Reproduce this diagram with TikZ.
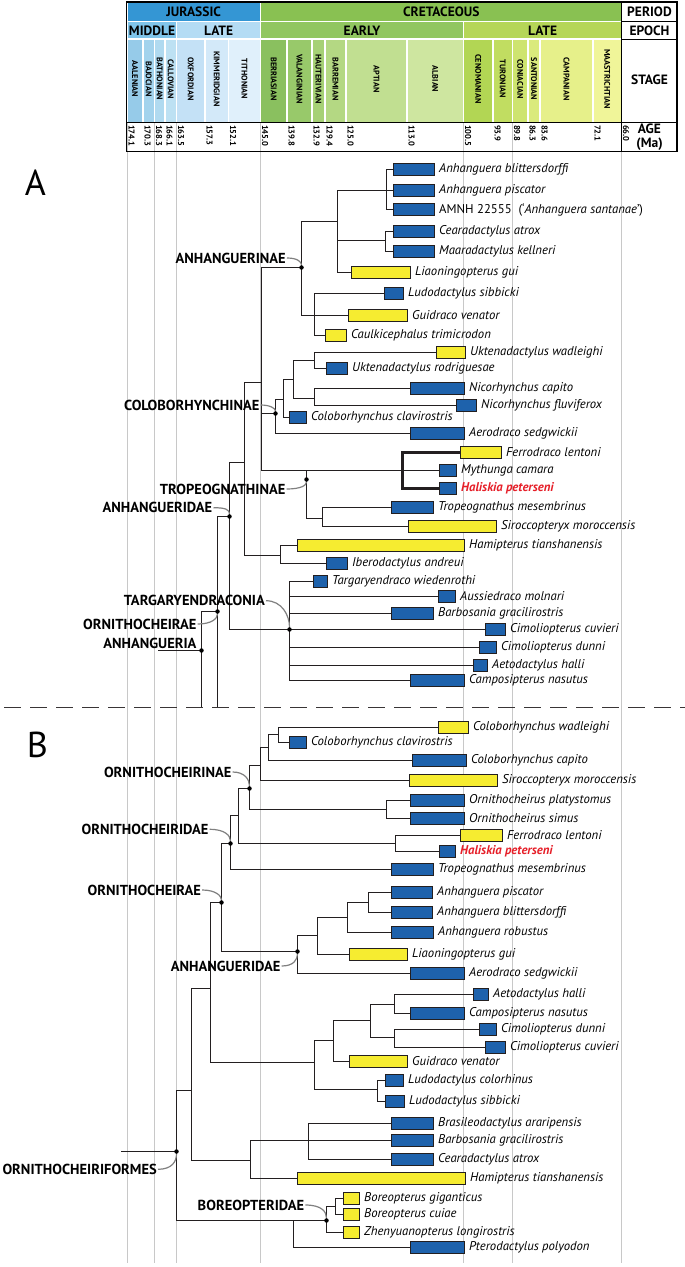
\documentclass[tikz,border=0pt]{standalone}
\usepackage{fontspec}
\setmainfont{PT Sans}
\definecolor{jur}{RGB}{52,150,212}
\definecolor{midj}{RGB}{128,197,234}
\definecolor{latej}{RGB}{180,220,244}
\definecolor{aal}{RGB}{150,203,233}
\definecolor{baj}{RGB}{163,211,237}
\definecolor{bat}{RGB}{176,218,240}
\definecolor{cal}{RGB}{189,225,243}
\definecolor{oxf}{RGB}{196,225,246}
\definecolor{kim}{RGB}{211,233,249}
\definecolor{tit}{RGB}{224,240,251}
\definecolor{cre}{RGB}{137,193,82}
\definecolor{ek}{RGB}{145,198,96}
\definecolor{lk}{RGB}{181,214,88}
\definecolor{ber}{RGB}{138,192,95}
\definecolor{val}{RGB}{152,201,106}
\definecolor{hau}{RGB}{166,209,118}
\definecolor{bar}{RGB}{180,216,131}
\definecolor{apt}{RGB}{193,223,145}
\definecolor{alb}{RGB}{206,230,160}
\definecolor{cen}{RGB}{178,214,84}
\definecolor{tur}{RGB}{193,221,97}
\definecolor{con}{RGB}{206,228,111}
\definecolor{san}{RGB}{218,234,124}
\definecolor{cam}{RGB}{230,240,138}
\definecolor{maa}{RGB}{240,245,153}
\definecolor{fblue}{RGB}{30,98,172}
\definecolor{fyel}{RGB}{246,236,48}
\definecolor{hred}{RGB}{230,30,40}
\definecolor{linec}{RGB}{35,31,32}
\definecolor{gridc}{RGB}{200,200,200}
\newcommand\myTaxFont{\fontsize{12.7}{14}\selectfont\itshape}
\newcommand\myCladeFont{\fontsize{14.5}{15}\selectfont\bfseries}
% pixel-aligned coordinate
\newcommand\pc[3]{\coordinate (#1) at ({floor(#2)+0.5},{floor(#3)+0.5});}
\newcommand\taxon[6]{%
  \node[tbox, fill=#5, minimum width={round(#3-#2)*1pt}] (#1) at ({floor(#2)+0.5},{floor(#4)+0.5}) {};
  \node[taxtxt] (#1t) at ([xshift=4.5pt]#1.east) {#6};}
% bracket: node, top child, bottom child
\newcommand\brk[3]{\draw[edge] (#2) -| (#1) |- (#3);}
\newcommand\brkbold[3]{\draw[boldedge] (#2) -| (#1) |- (#3);}
% middle child
\newcommand\midc[2]{\draw[edge] (#1 |- #2) -- (#2);}
\pgfdeclarelayer{grid}
\pgfdeclarelayer{bg}
\pgfsetlayers{grid,bg,main}
\begin{document}
\begin{tikzpicture}[x=1pt,y=-1pt,
  edge/.style={draw=linec, line width=1.8pt, line cap=rect},
  boldedge/.style={draw=linec, line width=2.6pt, line cap=rect},
  tbox/.style={draw=linec, line width=1pt, inner sep=0pt, outer sep=0pt, minimum height=12pt, anchor=west},
  taxtxt/.style={font=\myTaxFont, anchor=west, inner sep=0pt},
  clade/.style={font=\myCladeFont, anchor=east, inner sep=0pt},
  lead/.style={draw=gray, line width=1.2pt},
  ndot/.style={circle, fill=black, inner sep=0pt, minimum size=4.5pt},
  gridl/.style={draw=gridc, line width=1.2pt},
  cell/.style={draw=white, line width=1.2pt},
  hdr/.style={font=\fontsize{13.5}{14}\selectfont\bfseries, inner sep=0pt},
  stagetxt/.style={font=\fontsize{8.2}{9}\selectfont\bfseries, rotate=-90, inner sep=0pt},
  agetxt/.style={font=\fontsize{8.5}{9}\selectfont\bfseries, rotate=-90, inner sep=0.3pt, anchor=south west},
  sepline/.style={draw=linec!90, line width=1.7pt, dash pattern=on 17pt off 9pt}]
\useasboundingbox (0,0) rectangle (685,1267);

% ---------- background and time grid ----------
\begin{pgfonlayer}{grid}
\fill[white] (0,0) rectangle (685,1267);
\foreach \x in {127.5,154.5,176.5,260.5,463.5,512.5,621.5}
  \draw[gridl] (\x,122.5) -- (\x,1263);
\end{pgfonlayer}

% ---------- header ----------
\filldraw[cell, fill=jur] (127,2.5) rectangle (260.5,21.3);
\filldraw[cell, fill=cre] (260.5,2.5) rectangle (621.5,21.3);
\filldraw[cell, fill=midj] (127,21.3) rectangle (176.5,39);
\filldraw[cell, fill=latej] (176.5,21.3) rectangle (260.5,39);
\filldraw[cell, fill=ek] (260.5,21.3) rectangle (463.5,39);
\filldraw[cell, fill=lk] (463.5,21.3) rectangle (621.5,39);
\node[hdr] (hJ) at (193.7,12) {JURASSIC};
\node[hdr] (hK) at (441.3,12) {CRETACEOUS};
\node[hdr] (hP) at (649.5,12) {PERIOD};
\node[hdr] (hMJ) at (152,30.5) {MIDDLE};
\node[hdr] (hLJ) at (218.7,30.5) {LATE};
\node[hdr] (hEK) at (362,30.5) {EARLY};
\node[hdr] (hLK) at (542.7,30.5) {LATE};
\node[hdr] (hE) at (649.5,30.5) {EPOCH};
\node[hdr] (hS) at (649.5,80) {STAGE};
\node[hdr] (hA) at (649.5,129) {AGE};
\node[hdr] (hM) at (649.5,144) {(Ma)};
\foreach \a/\b/\c/\t in {127/143/aal/AALENIAN, 143/154.5/baj/BAJOCIAN, 154.5/165/bat/BATHONIAN,
  165/176.5/cal/CALLOVIAN, 176.5/205/oxf/OXFORDIAN, 205/228.5/kim/KIMMERIDGIAN, 228.5/260.5/tit/TITHONIAN,
  260.5/287/ber/BERRIASIAN, 287/312/val/VALANGINIAN, 312/325/hau/HAUTERIVIAN, 325/346/bar/BARREMIAN,
  346/407/apt/APTIAN, 407/463.5/alb/ALBIAN, 463.5/493/cen/CENOMANIAN, 493/512.5/tur/TURONIAN,
  512.5/528/con/CONIACIAN, 528/540/san/SANTONIAN, 540/593/cam/CAMPANIAN, 593/621.5/maa/MAASTRICHTIAN}
{
  \filldraw[cell, fill=\c] (\a,39) rectangle (\b,122.5);
  \node[stagetxt] (st\t) at ({(\a+\b)/2},79) {\t};
}
\foreach \x/\t in {127/174.1, 143/170.3, 154.5/168.3, 165/166.1, 176.5/163.5, 205/157.3, 228.5/152.1,
  260.5/145.0, 287/139.8, 312/132.9, 325/129.4, 346/125.0, 407/113.0, 463.5/100.5, 493/93.9,
  512.5/89.8, 528/86.3, 540/83.6, 593/72.1, 621.5/66.0}
  \node[agetxt] (ag\t) at (\x+1,124.5) {\t};
\draw[line width=1pt] (621.5,2) -- (621.5,151.5);
\draw[line width=1pt] (621.5,21.3) -- (677,21.3);
\draw[line width=1pt] (621.5,39) -- (677,39);
\draw[line width=1pt] (126.5,122.5) -- (677,122.5);
\draw[line width=1.3pt] (126.5,2) rectangle (677,151.5);

% ---------- panel letters, separator ----------
\node[font=\fontsize{36}{36}\selectfont, inner sep=0pt] (lblA) at (35.5,183) {A};
\node[font=\fontsize{36}{36}\selectfont, inner sep=0pt] (lblB) at (37.5,745) {B};
\draw[sepline] (4,707.5) -- (685,707.5);

% ================= TREE A =================
\taxon{a1}{393.4}{434}{169.5}{fblue}{Anhanguera blittersdorffi}
\taxon{a2}{393.4}{434}{190.5}{fblue}{Anhanguera piscator}
\taxon{a3}{393.4}{434}{209.5}{fblue}{\upshape AMNH 22555\ \ (‘\itshape Anhanguera santanae\upshape ’)}
\taxon{a4}{393.4}{434}{231.5}{fblue}{Cearadactylus atrox}
\taxon{a5}{393.4}{434}{251.5}{fblue}{Maaradactylus kellneri}
\taxon{a6}{351}{410}{272.5}{fyel}{Liaoningopterus gui}
\taxon{a7}{384.6}{403.4}{293.5}{fblue}{Ludodactylus sibbicki}
\taxon{a8}{348.6}{407.5}{315.5}{fyel}{Guidraco venator}
\taxon{a9}{325.7}{347}{335}{fyel}{Caulkicephalus trimicrodon}
\taxon{a10}{436}{465}{352}{fyel}{Uktenadactylus wadleighi}
\taxon{a11}{326.4}{347}{368.5}{fblue}{Uktenadactylus rodriguesae}
\taxon{a12}{410}{464.4}{388.5}{fblue}{Nicorhynchus capito}
\taxon{a13}{456.5}{476}{405.5}{fblue}{Nicorhynchus fluviferox}
\taxon{a14}{289}{306}{417}{fblue}{Coloborhynchus clavirostris}
\taxon{a15}{410.5}{464.8}{433}{fblue}{Aerodraco sedgwickii}
\taxon{a16}{460}{501}{452}{fyel}{Ferrodraco lentoni}
\taxon{a17}{439}{455.5}{470}{fblue}{Mythunga camara}
\taxon{a18}{439}{455.5}{488.5}{fblue}{\bfseries\color{hred}Haliskia peterseni}
\taxon{a19}{391.7}{433.7}{507.2}{fblue}{Tropeognathus mesembrinus}
\taxon{a20}{408}{495.6}{526.8}{fyel}{Siroccopteryx moroccensis}
\taxon{a21}{297.6}{464.8}{545.3}{fyel}{Hamipterus tianshanensis}
\taxon{a22}{326.9}{347.5}{563.8}{fblue}{Iberodactylus andreui}
\taxon{a23}{313}{326.9}{581.3}{fblue}{Targaryendraco wiedenrothi}
\taxon{a24}{438.6}{456}{596.5}{fblue}{Aussiedraco molnari}
\taxon{a25}{391.7}{433.7}{613.8}{fblue}{Barbosania gracilirostris}
\taxon{a26}{485.5}{505.7}{629.5}{fblue}{Cimoliopterus cuvieri}
\taxon{a27}{479.8}{496.7}{647.8}{fblue}{Cimoliopterus dunni}
\taxon{a28}{473}{487.3}{665}{fblue}{Aetodactylus halli}
\taxon{a29}{410.5}{464.5}{680.5}{fblue}{Camposipterus nasutus}

\pc{aStem}{158}{650.7}
\pc{aAnhangueria}{201}{650.7}
\pc{aCut1}{201}{707.7}
\pc{aOrni}{217.4}{611.7}
\pc{aCut2}{217.4}{707.7}
\pc{aAnhangueridae}{229.4}{516.7}
\pc{aN244}{244.4}{462.7}
\pc{aN262}{261.5}{382.7}
\pc{aAnhanguerinae}{301.8}{267}
\pc{aN337}{337}{221.7}
\pc{aN386}{386}{190.5}
\pc{aN385}{385.5}{240}
\pc{aN314a}{314.4}{315.5}
\pc{aColo}{275.7}{413}
\pc{aN283}{283}{399.3}
\pc{aN293}{293}{379.3}
\pc{aNUk}{314.4}{360}
\pc{aNNic}{314.4}{398.3}
\pc{aTrop}{306.2}{470.5}
\pc{aTropDot}{306.2}{479.3}
\pc{aNFerro}{402}{470}
\pc{aNTro}{322.5}{518.3}
\pc{aNHam}{280}{555}
\pc{aTarg}{289.4}{629.5}

\begin{pgfonlayer}{bg}
\draw[edge] (aStem) -- (aAnhangueria);
\brk{aAnhangueria}{aOrni}{aCut1}
\brk{aOrni}{aAnhangueridae}{aCut2}
\brk{aAnhangueridae}{aN244}{aTarg}
\brk{aN244}{aN262}{aNHam}
\brk{aN262}{aAnhanguerinae}{aTrop}
\midc{aN262}{aColo}
\brk{aAnhanguerinae}{aN337}{aN314a}
\brk{aN337}{aN386}{a6.west}
\midc{aN337}{aN385}
\brk{aN386}{a1.west}{a3.west}
\midc{aN386}{a2.west}
\brk{aN385}{a4.west}{a5.west}
\brk{aN314a}{a7.west}{a9.west}
\midc{aN314a}{a8.west}
\brk{aColo}{aN283}{a15.west}
\brk{aN283}{aN293}{a14.west}
\brk{aN293}{aNUk}{aNNic}
\brk{aNUk}{a10.west}{a11.west}
\brk{aNNic}{a12.west}{a13.west}
\brk{aTrop}{aNFerro}{aNTro}
\brkbold{aNFerro}{a16.west}{a18.west}
\midc{aNFerro}{a17.west}
\brk{aNTro}{a19.west}{a20.west}
\brk{aNHam}{a21.west}{a22.west}
\brk{aTarg}{a23.west}{a29.west}
\foreach \t in {24,...,28} {\midc{aTarg}{a\t.west}}
\end{pgfonlayer}

\node[ndot] (dAnhangueria) at (aAnhangueria) {};
\node[ndot] (dAOrni) at (aOrni) {};
\node[ndot] (dAAnhangueridae) at (aAnhangueridae) {};
\node[ndot] (dAnhanguerinae) at (aAnhanguerinae) {};
\node[ndot] (dColo) at (aColo) {};
\node[ndot] (dTrop) at (aTropDot) {};
\node[ndot] (dTarg) at (aTarg) {};

\node[clade] (lAnhanguerinae) at (286,258) {ANHANGUERINAE};
\node[clade] (lColo) at (259.6,405) {COLOBORHYNCHINAE};
\node[clade] (lTrop) at (285.6,489) {TROPEOGNATHINAE};
\node[clade] (lAAnhangueridae) at (212.5,507.7) {ANHANGUERIDAE};
\node[clade] (lTarg) at (265,600.7) {TARGARYENDRACONIA};
\node[clade] (lAOrni) at (196.7,624) {ORNITHOCHEIRAE};
\node[clade] (lAnhangueria) at (196.7,643.3) {ANHANGUERIA};
\draw[lead] ([xshift=1pt]lAnhanguerinae.east) .. controls +(10,0) and +(0,-6) .. (dAnhanguerinae);
\draw[lead] ([xshift=1pt]lColo.east) .. controls +(10,0) and +(0,-5) .. (dColo);
\draw[lead] ([xshift=1pt]lTrop.east) .. controls +(14,0) and +(0,6) .. (dTrop);
\draw[lead] ([xshift=1pt]lAAnhangueridae.east) .. controls +(12,0) and +(0,-7) .. (dAAnhangueridae);
\draw[lead] ([xshift=1pt]lTarg.east) .. controls +(16,0) and +(0,-14) .. (dTarg);
\draw[lead] ([xshift=1pt]lAOrni.east) .. controls +(14,0) and +(0,7) .. (dAOrni);

% ================= TREE B =================
\taxon{b1}{438}{468}{727}{fyel}{Coloborhynchus wadleighi}
\taxon{b2}{289}{305.7}{742.5}{fblue}{Coloborhynchus clavirostris}
\taxon{b3}{412}{466}{760}{fblue}{Coloborhynchus capito}
\taxon{b4}{409.7}{497.8}{780.5}{fyel}{Siroccopteryx moroccensis}
\taxon{b5}{410.5}{464.5}{800}{fblue}{Ornithocheirus platystomus}
\taxon{b6}{410.5}{464.5}{818.3}{fblue}{Ornithocheirus simus}
\taxon{b7}{460}{502}{835}{fyel}{Ferrodraco lentoni}
\taxon{b8}{439.3}{455.5}{851.5}{fblue}{\bfseries\color{hred}Haliskia peterseni}
\taxon{b9}{391.7}{433.7}{869.5}{fblue}{Tropeognathus mesembrinus}
\taxon{b10}{391.7}{433}{892.5}{fblue}{Anhanguera piscator}
\taxon{b11}{391.7}{433}{912.8}{fblue}{Anhanguera blittersdorffi}
\taxon{b12}{391.7}{433.7}{932.5}{fblue}{Anhanguera robustus}
\taxon{b13}{349.4}{407.5}{954.5}{fyel}{Liaoningopterus gui}
\taxon{b14}{410.5}{464.5}{973.3}{fblue}{Aerodraco sedgwickii}
\taxon{b15}{473}{488}{994}{fblue}{Aetodactylus halli}
\taxon{b16}{410.5}{464.5}{1013}{fblue}{Camposipterus nasutus}
\taxon{b17}{479.8}{496.3}{1029}{fblue}{Cimoliopterus dunni}
\taxon{b18}{485.5}{505.7}{1047}{fblue}{Cimoliopterus cuvieri}
\taxon{b19}{349.4}{407.5}{1061}{fyel}{Guidraco venator}
\taxon{b20}{385}{403}{1080}{fblue}{Ludodactylus colorhinus}
\taxon{b21}{385}{403.7}{1101.7}{fblue}{Ludodactylus sibbicki}
\taxon{b22}{391.7}{433.7}{1123}{fblue}{Brasileodactylus araripensis}
\taxon{b23}{391.7}{433.7}{1140.7}{fblue}{Barbosania gracilirostris}
\taxon{b24}{391.7}{433.5}{1159}{fblue}{Cearadactylus atrox}
\taxon{b25}{297.6}{465.6}{1178.5}{fyel}{Hamipterus tianshanensis}
\taxon{b26}{343}{358.7}{1198}{fyel}{Boreopterus giganticus}
\taxon{b27}{343}{358.7}{1214.7}{fyel}{Boreopterus cuiae}
\taxon{b28}{343}{358.7}{1232}{fyel}{Zhenyuanopterus longirostris}
\taxon{b29}{410.5}{464.5}{1247.5}{fblue}{Pterodactylus polyodon}

\pc{bStem}{121.7}{1151.7}
\pc{bRoot}{176.9}{1151.7}
\pc{bN191}{191}{1090}
\pc{bN293}{293}{1220}
\pc{bBoreo}{326.9}{1220}
\pc{bNBor}{335.5}{1206.5}
\pc{bN250}{250}{1160}
\pc{bN309}{308.9}{1140.7}
\pc{bN210}{210.6}{988.3}
\pc{bN314}{314}{1062.7}
\pc{bN333}{333.2}{1040}
\pc{bN370}{370}{1020}
\pc{bN394a}{394.4}{1004}
\pc{bN394b}{394.4}{1037.5}
\pc{bNLudo}{377.5}{1089}
\pc{bOrnae}{221}{902.7}
\pc{bOrnidae}{230.1}{843.3}
\pc{bN238}{238.3}{815}
\pc{bOrninae}{249}{788}
\pc{bN260}{260}{765.3}
\pc{bN268}{268.3}{747}
\pc{bN278}{278.3}{734.7}
\pc{bNOrnith}{386.8}{809.3}
\pc{bNFerro}{395.5}{843.3}
\pc{bAnhangueridae}{297.6}{951.7}
\pc{bN317}{317.5}{935.7}
\pc{bN347}{347.5}{917.7}
\pc{bN369}{368.8}{902.7}

\begin{pgfonlayer}{bg}
\draw[edge] (bStem) -- (bRoot);
\brk{bRoot}{bN191}{bN293}
\brk{bN293}{bBoreo}{b29.west}
\brk{bBoreo}{bNBor}{b28.west}
\brk{bNBor}{b26.west}{b27.west}
\brk{bN191}{bN210}{bN250}
\brk{bN250}{bN309}{b25.west}
\brk{bN309}{b22.west}{b24.west}
\midc{bN309}{b23.west}
\brk{bN210}{bOrnae}{bN314}
\brk{bN314}{bN333}{bNLudo}
\brk{bNLudo}{b20.west}{b21.west}
\brk{bN333}{bN370}{b19.west}
\brk{bN370}{bN394a}{bN394b}
\brk{bN394a}{b15.west}{b16.west}
\brk{bN394b}{b17.west}{b18.west}
\brk{bOrnae}{bOrnidae}{bAnhangueridae}
\brk{bAnhangueridae}{bN317}{b14.west}
\brk{bN317}{bN347}{b13.west}
\brk{bN347}{bN369}{b12.west}
\brk{bN369}{b10.west}{b11.west}
\brk{bOrnidae}{bN238}{b9.west}
\brk{bN238}{bOrninae}{bNFerro}
\brk{bNFerro}{b7.west}{b8.west}
\brk{bOrninae}{bN260}{bNOrnith}
\brk{bNOrnith}{b5.west}{b6.west}
\brk{bN260}{bN268}{b4.west}
\brk{bN268}{bN278}{b3.west}
\brk{bN278}{b1.west}{b2.west}
\end{pgfonlayer}

\node[ndot] (dRoot) at (bRoot) {};
\node[ndot] (dBOrnae) at (bOrnae) {};
\node[ndot] (dBOrnidae) at (bOrnidae) {};
\node[ndot] (dBOrninae) at (bOrninae) {};
\node[ndot] (dBAnhangueridae) at (bAnhangueridae) {};
\node[ndot] (dBoreo) at (bBoreo) {};

\node[clade] (lBOrninae) at (231.7,772) {ORNITHOCHEIRINAE};
\node[clade] (lBOrnidae) at (208.7,829.3) {ORNITHOCHEIRIDAE};
\node[clade] (lBOrnae) at (201.2,890) {ORNITHOCHEIRAE};
\node[clade] (lBAnhangueridae) at (280.7,966) {ANHANGUERIDAE};
\node[clade] (lBRoot) at (157,1169.3) {ORNITHOCHEIRIFORMES};
\node[clade] (lBoreo) at (304.4,1205) {BOREOPTERIDAE};
\draw[lead] ([xshift=1pt]lBOrninae.east) .. controls +(12,0) and +(0,-9) .. (dBOrninae);
\draw[lead] ([xshift=1pt]lBOrnidae.east) .. controls +(15,0) and +(0,-8) .. (dBOrnidae);
\draw[lead] ([xshift=1pt]lBOrnae.east) .. controls +(13,0) and +(0,-7) .. (dBOrnae);
\draw[lead] ([xshift=1pt]lBAnhangueridae.east) .. controls +(12,0) and +(0,8) .. (dBAnhangueridae);
\draw[lead] ([xshift=1pt]lBRoot.east) .. controls +(14,0) and +(0,10) .. (dRoot);
\draw[lead] ([xshift=1pt]lBoreo.east) .. controls +(16,0) and +(0,-9) .. (dBoreo);
\end{tikzpicture}
\end{document}
